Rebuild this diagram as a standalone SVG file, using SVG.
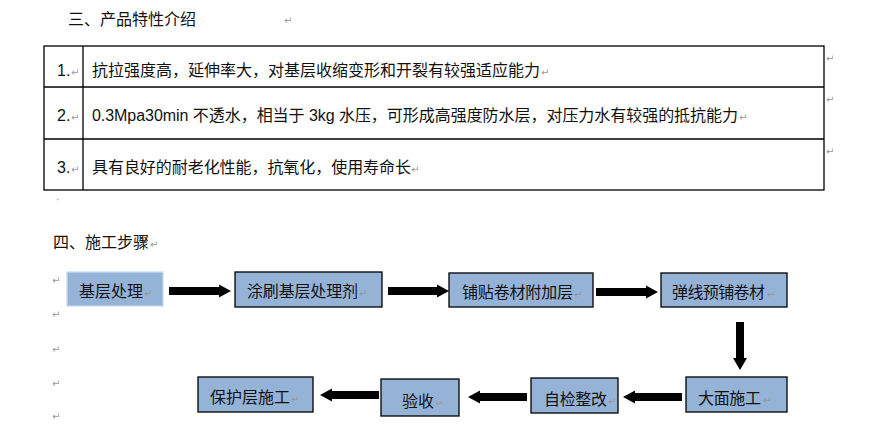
<svg xmlns="http://www.w3.org/2000/svg" width="876" height="437" viewBox="0 0 876 437">
<style>
text{font-family:"Liberation Sans","Noto Sans CJK SC",sans-serif;font-size:16px;fill:#111}
.rm{font-family:"DejaVu Sans",sans-serif;font-size:10px;fill:#999}
.box{fill:#95B3D7;stroke:#000;stroke-width:1.3}
.box0{fill:#95B3D7;stroke:#C6D9F1;stroke-width:1.3}
.arr{fill:#000}
.tbl{fill:none;stroke:#000;stroke-width:1.3}
</style>
<rect width="876" height="437" fill="#fff"/>
<text x="68" y="25">三、产品特性介绍</text>
<text class="rm" x="284" y="24">↵</text>
<g id="table">
<rect class="tbl" x="44" y="46" width="780" height="144"/>
<line class="tbl" x1="44" y1="87" x2="824" y2="87"/>
<line class="tbl" x1="44" y1="139" x2="824" y2="139"/>
<line class="tbl" x1="83" y1="46" x2="83" y2="190"/>
<text x="57" y="76">1.</text><text class="rm" x="71" y="76">↵</text>
<text x="92" y="76" textLength="448">抗拉强度高，延伸率大，对基层收缩变形和开裂有较强适应能力</text><text class="rm" x="541" y="76">↵</text>
<text x="57" y="121">2.</text><text class="rm" x="71" y="121">↵</text>
<text x="92" y="121" textLength="646">0.3Mpa30min 不透水，相当于 3kg 水压，可形成高强度防水层，对压力水有较强的抵抗能力</text><text class="rm" x="739" y="121">↵</text>
<text x="57" y="173">3.</text><text class="rm" x="71" y="173">↵</text>
<text x="92" y="173" textLength="319">具有良好的耐老化性能，抗氧化，使用寿命长</text><text class="rm" x="411" y="173">↵</text>
<text class="rm" x="826" y="62">↵</text>
<text class="rm" x="826" y="103">↵</text>
<text class="rm" x="826" y="155">↵</text>
</g>
<text class="rm" x="56" y="203">·</text>
<text x="53" y="248">四、施工步骤</text><text class="rm" x="150" y="248">↵</text>
<text class="rm" x="52" y="284">↵</text>
<text class="rm" x="52" y="318">↵</text>
<text class="rm" x="52" y="353">↵</text>
<text class="rm" x="52" y="387">↵</text>
<text class="rm" x="52" y="420">↵</text>
<g id="connectors">
<polygon class="arr" points="169,287 219,287 219,284.5 231,291 219,297.5 219,295 169,295"/>
<polygon class="arr" points="388,287 437,287 437,284.5 449,291 437,297.5 437,295 388,295"/>
<polygon class="arr" points="596,288 646,288 646,285.5 658,292 646,298.5 646,296 596,296"/>
<polygon class="arr" points="736,322 744,322 744,358 747,358 740,370 733,358 736,358"/>
<polygon class="arr" points="682,393 635,393 635,390.5 623,397 635,403.5 635,401 682,401"/>
<polygon class="arr" points="527,393 480,393 480,390.5 468,397 480,403.5 480,401 527,401"/>
<polygon class="arr" points="379,391 332,391 332,388.5 320,395 332,401.5 332,399 379,399"/>
</g>
<g id="n1"><rect class="box0" x="67" y="272" width="96" height="34"/><text x="79" y="297">基层处理</text><text class="rm" x="144" y="297">↵</text></g>
<g id="n2"><rect class="box" x="235" y="272" width="147" height="35"/><text x="247" y="297" textLength="111">涂刷基层处理剂</text><text class="rm" x="359" y="297">↵</text></g>
<g id="n3"><rect class="box" x="449" y="273" width="144" height="34"/><text x="462" y="298" textLength="111">铺贴卷材附加层</text><text class="rm" x="574" y="298">↵</text></g>
<g id="n4"><rect class="box" x="661" y="273" width="126" height="34"/><text x="672" y="298" textLength="93">弹线预铺卷材</text><text class="rm" x="767" y="298">↵</text></g>
<g id="n5"><rect class="box" x="686" y="377" width="101" height="35"/><text x="698" y="404" textLength="63">大面施工</text><text class="rm" x="763" y="404">↵</text></g>
<g id="n6"><rect class="box" x="531" y="378" width="87" height="35"/><text x="544" y="405" textLength="63">自检整改</text><text class="rm" x="608" y="405">↵</text></g>
<g id="n7"><rect class="box" x="381" y="379" width="78" height="37"/><text x="402" y="407">验收</text><text class="rm" x="435" y="407">↵</text></g>
<g id="n8"><rect class="box" x="198" y="377" width="115" height="35"/><text x="210" y="403" textLength="80">保护层施工</text><text class="rm" x="291" y="403">↵</text></g>
</svg>
